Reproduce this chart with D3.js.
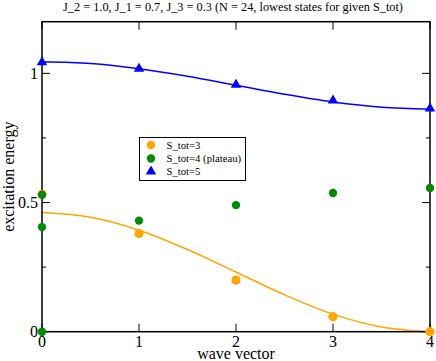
<!DOCTYPE html>
<html><head><meta charset="utf-8">
<script src="https://cdn.jsdelivr.net/npm/d3@7"></script>
<style>body{margin:0;background:#fff}svg{display:block}</style>
</head><body>
<script>
// data
const title = "J_2 = 1.0, J_1 = 0.7, J_3 = 0.3 (N = 24, lowest states for given S_tot)";
const xLabel = "wave vector", yLabel = "excitation energy";
const xTicks = [0, 1, 2, 3, 4];
const yMajor = [0, 0.5, 1];
const yMinor = [0.25, 0.75];
const s3X = [0, 1, 2, 3, 4];
const s3Y = [0.532, 0.38, 0.20, 0.058, 0.0];
const s4X = [0, 0, 0, 1, 2, 3, 4];
const s4Y = [0.53, 0.405, 0.0, 0.43, 0.49, 0.537, 0.556];
const s5X = [0, 1, 2, 3, 4];
const s5Y = [1.043, 1.018, 0.956, 0.895, 0.864];
// fitted curves
const fitX = [0, 0.5, 1, 1.5, 2, 2.5, 3, 3.5, 4];
const fit3Y = [0.461, 0.443, 0.393, 0.318, 0.231, 0.143, 0.068, 0.018, 0.0];
const fit5Y = [1.045, 1.038, 1.018, 0.989, 0.954, 0.919, 0.889, 0.869, 0.862];
const legendNames = ["S_tot=3", "S_tot=4 (plateau)", "S_tot=5"];

const FONT = "'Liberation Serif', 'Times New Roman', 'DejaVu Serif', serif";
const W = 436, H = 361;
const svg = d3.select("body").append("svg").attr("width", W).attr("height", H)
  .attr("font-family", FONT);
const x = d3.scaleLinear().domain([0, 4]).range([42, 430]);
const y = d3.scaleLinear().domain([0, 1.2]).range([331.7, 21.7]);
const cOr = "#FFA500", cGr = "#008C00", cBl = "#0000FF";

svg.append("text").attr("x", 233).attr("y", 10.5).attr("text-anchor", "middle")
  .attr("font-family", FONT).attr("font-size", 12.3).text(title);

// curves
const line = d3.line().curve(d3.curveCatmullRom);
svg.append("path").attr("d", line(fitX.map((v, i) => [x(v), y(fit3Y[i])])))
  .attr("fill", "none").attr("stroke", cOr).attr("stroke-width", 1.5);
svg.append("path").attr("d", line(fitX.map((v, i) => [x(v), y(fit5Y[i])])))
  .attr("fill", "none").attr("stroke", cBl).attr("stroke-width", 1.5);

// frame
svg.append("rect").attr("x", x(0)).attr("y", y(1.2)).attr("width", x(4) - x(0))
  .attr("height", y(0) - y(1.2)).attr("fill", "none").attr("stroke", "#000").attr("stroke-width", 1.5);

// ticks (inward, all sides)
const tg = svg.append("g").attr("stroke", "#000").attr("stroke-width", 1);
xTicks.forEach(t => {
  tg.append("line").attr("x1", x(t)).attr("x2", x(t)).attr("y1", y(0)).attr("y2", y(0) - 8);
  tg.append("line").attr("x1", x(t)).attr("x2", x(t)).attr("y1", y(1.2)).attr("y2", y(1.2) + 8);
});
yMajor.forEach(t => {
  tg.append("line").attr("x1", x(0)).attr("x2", x(0) + 8).attr("y1", y(t)).attr("y2", y(t));
  tg.append("line").attr("x1", x(4)).attr("x2", x(4) - 8).attr("y1", y(t)).attr("y2", y(t));
});
yMinor.forEach(t => {
  tg.append("line").attr("x1", x(0)).attr("x2", x(0) + 4).attr("y1", y(t)).attr("y2", y(t));
  tg.append("line").attr("x1", x(4)).attr("x2", x(4) - 4).attr("y1", y(t)).attr("y2", y(t));
});

// tick labels
xTicks.forEach(t => svg.append("text").attr("x", x(t)).attr("y", y(0) + 15)
  .attr("text-anchor", "middle").attr("font-size", 16).text(d3.format("")(t)));
yMajor.forEach(t => svg.append("text").attr("x", x(0) - 4).attr("y", y(t)).attr("dy", "0.35em")
  .attr("text-anchor", "end").attr("font-size", 16).text(d3.format("")(t)));

svg.append("text").attr("x", 236).attr("y", 358.5).attr("text-anchor", "middle")
  .attr("font-size", 16).text(xLabel);
svg.append("text").attr("transform", `translate(14,${(y(0) + y(1.2)) / 2}) rotate(-90)`)
  .attr("text-anchor", "middle").attr("font-size", 16).text(yLabel);

// markers
svg.append("g").selectAll("circle").data(s3X).join("circle")
  .attr("cx", d => x(d)).attr("cy", (d, i) => y(s3Y[i])).attr("r", 4.6).attr("fill", cOr);
svg.append("g").selectAll("circle").data(s4X).join("circle")
  .attr("cx", d => x(d)).attr("cy", (d, i) => y(s4Y[i])).attr("r", 4.2).attr("fill", cGr);
const tri = d3.symbol().type(d3.symbolTriangle).size(48);
svg.append("g").selectAll("path").data(s5X).join("path")
  .attr("transform", (d, i) => `translate(${x(d)},${y(s5Y[i])})`).attr("d", tri).attr("fill", cBl);

// legend
const lg = svg.append("g");
lg.append("rect").attr("x", 139.5).attr("y", 137.5).attr("width", 106).attr("height", 43)
  .attr("fill", "#fff").attr("stroke", "#000").attr("stroke-width", 1);
const ly = [145, 158.5, 171.5];
lg.append("circle").attr("cx", 151).attr("cy", ly[0]).attr("r", 4.2).attr("fill", cOr);
lg.append("circle").attr("cx", 151).attr("cy", ly[1]).attr("r", 4.2).attr("fill", cGr);
lg.append("path").attr("transform", `translate(151,${ly[2]})`).attr("d", tri).attr("fill", cBl);
legendNames.forEach((n, i) => lg.append("text").attr("x", 166.5).attr("y", ly[i]).attr("dy", "0.35em")
  .attr("font-family", FONT).attr("font-size", 10.7).text(n));
</script>
</body></html>
